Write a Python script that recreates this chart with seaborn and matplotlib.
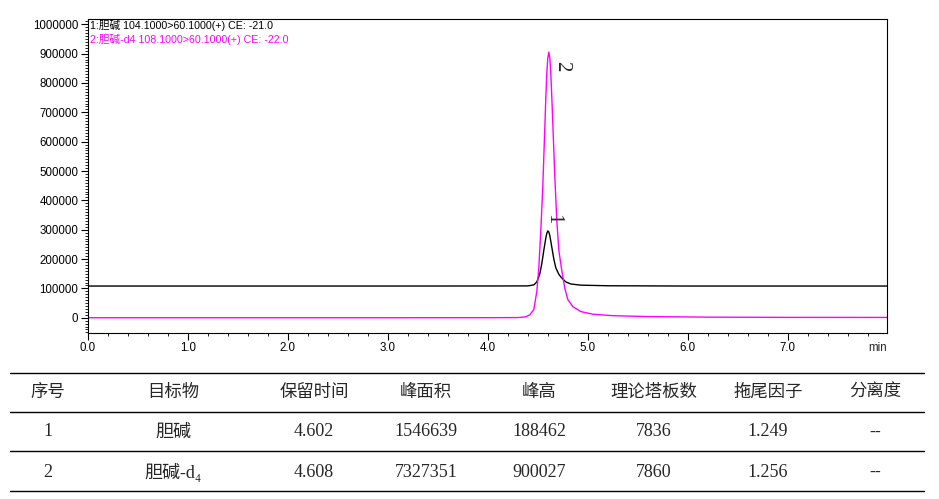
import matplotlib
matplotlib.use('Agg')
import numpy as np
import pandas as pd
import matplotlib.pyplot as plt
from matplotlib.lines import Line2D
from matplotlib.ticker import MultipleLocator
import seaborn as sns

# trace 1 : choline 104.1>60.1 (black)
time1 = [0.00, 1.00, 2.00, 3.00, 4.00, 4.40, 4.46, 4.49, 4.52, 4.54, 4.56, 4.58,
         4.59, 4.60, 4.61, 4.62, 4.64, 4.66, 4.68, 4.71, 4.74, 4.78, 4.83, 4.93,
         5.20, 6.00, 7.00, 8.00]
resp1 = [108000, 108000, 108000, 108000, 108200, 108500, 112000, 122000, 150000,
         185000, 230000, 272000, 288000, 296000, 292000, 280000, 240000, 200000,
         170000, 148000, 135000, 122000, 115000, 111000, 109000, 108000, 108000,
         108000]

# trace 2 : choline-d4 108.1>60.1 (magenta)
time2 = [0.00, 1.00, 2.00, 3.00, 4.00, 4.30, 4.38, 4.42, 4.46, 4.49, 4.51, 4.53,
         4.55, 4.57, 4.58, 4.59, 4.60, 4.61, 4.62, 4.63, 4.64, 4.65, 4.67, 4.69,
         4.71, 4.74, 4.77, 4.80, 4.85, 4.93, 5.05, 5.25, 5.60, 6.20, 7.00, 8.00]
resp2 = [0, 0, 0, 0, 200, 500, 3000, 10000, 28000, 90000, 170000, 300000,
         450000, 650000, 750000, 835000, 885000, 905000, 885000, 830000, 750000,
         660000, 480000, 330000, 230000, 160000, 100000, 62000, 38000, 21000,
         12000, 7000, 4000, 2000, 1200, 1000]

trace_names = ['1:胆碱 104.1000>60.1000(+) CE: -21.0',
               '2:胆碱-d4 108.1000>60.1000(+) CE: -22.0']
peak_labels = ['1', '2']
peak_label_pos = [(4.645, 335000), (4.74, 858000)]

# result table
table_header = ['序号', '目标物', '保留时间', '峰面积', '峰高', '理论塔板数', '拖尾因子', '分离度']
table_rows = [
    ['1', '胆碱', '4.602', '1546639', '188462', '7836', '1.249', '--'],
    ['2', '胆碱-d\u2084', '4.608', '7327351', '900027', '7860', '1.256', '--'],
]

sns.set_style('white')
plt.rcParams['font.family'] = ['Liberation Sans', 'Noto Sans CJK SC', 'DejaVu Sans']

fig = plt.figure(figsize=(9.39, 4.99), dpi=100)
ax = fig.add_axes([88 / 939, 1 - 332.7 / 499, (886.7 - 88) / 939, (332.7 - 19.3) / 499])

df = pd.concat([
    pd.DataFrame({'t': time1, 'y': resp1, 'trace': trace_names[0]}),
    pd.DataFrame({'t': time2, 'y': resp2, 'trace': trace_names[1]}),
])
sns.lineplot(data=df, x='t', y='y', hue='trace', palette=['black', '#ff00ff'],
             linewidth=1.0, legend=False, ax=ax, sort=False, estimator=None)

ax.set_xlim(0, 7.99)
ax.set_ylim(-51000, 1017000)
ax.set_xlabel('')
ax.set_ylabel('')
ax.xaxis.set_minor_locator(MultipleLocator(0.2))
ax.yaxis.set_minor_locator(MultipleLocator(10000))
ax.set_xticks(np.arange(0, 7.5, 1.0))
ax.set_xticklabels(['%.1f' % v for v in np.arange(0, 7.5, 1.0)])
ax.set_yticks(np.arange(0, 1000001, 100000))
ax.set_yticklabels([str(int(v)) for v in np.arange(0, 1000001, 100000)])
ax.tick_params(axis='both', which='major', direction='out', length=5, width=0.8,
               labelsize=8.3, colors='black', pad=2)
ax.tick_params(axis='both', which='minor', direction='out', length=2.5, width=0.6,
               colors='black')
ax.tick_params(bottom=True, left=True, which='both')
for s in ax.spines.values():
    s.set_color('black')
    s.set_linewidth(0.8)

ax.annotate('min', xy=(7.9, 0), xycoords=('data', 'axes fraction'),
            xytext=(0, -11), textcoords='offset points', ha='center', va='center',
            fontsize=8.3)

cols = ['black', '#ff00ff']
for i, name in enumerate(trace_names):
    ax.text(0.002, 0.980 - i * 0.0435, name, transform=ax.transAxes, fontsize=7.7,
            color=cols[i], ha='left', va='center')

for lab, (x, y) in zip(peak_labels, peak_label_pos):
    ax.text(x, y, lab, rotation=-90, ha='center', va='center', fontsize=15,
            family=['Liberation Serif', 'Noto Sans CJK SC'])

# table drawn in figure pixels
W, H = 939, 499
col_x = [48, 173, 314, 426, 539, 654, 768, 875]
row_y = [392, 432, 472.5]
line_y = [372.5, 411.5, 451, 491]
for yl in line_y:
    fig.add_artist(Line2D([10 / W, 924 / W], [1 - yl / H, 1 - yl / H], color='black',
                          linewidth=1.0))
for x, txt in zip(col_x, table_header):
    fig.text(x / W, 1 - row_y[0] / H, txt, ha='center', va='center', fontsize=12.5,
             family=['Noto Sans CJK SC'], weight='medium')
for r, row in enumerate(table_rows):
    for x, txt in zip(col_x, row):
        fig.text(x / W, 1 - row_y[r + 1] / H, txt, ha='center', va='center',
                 fontsize=13, family=['Liberation Serif', 'Noto Sans CJK SC'])

fig.savefig('out.png', dpi=100)
